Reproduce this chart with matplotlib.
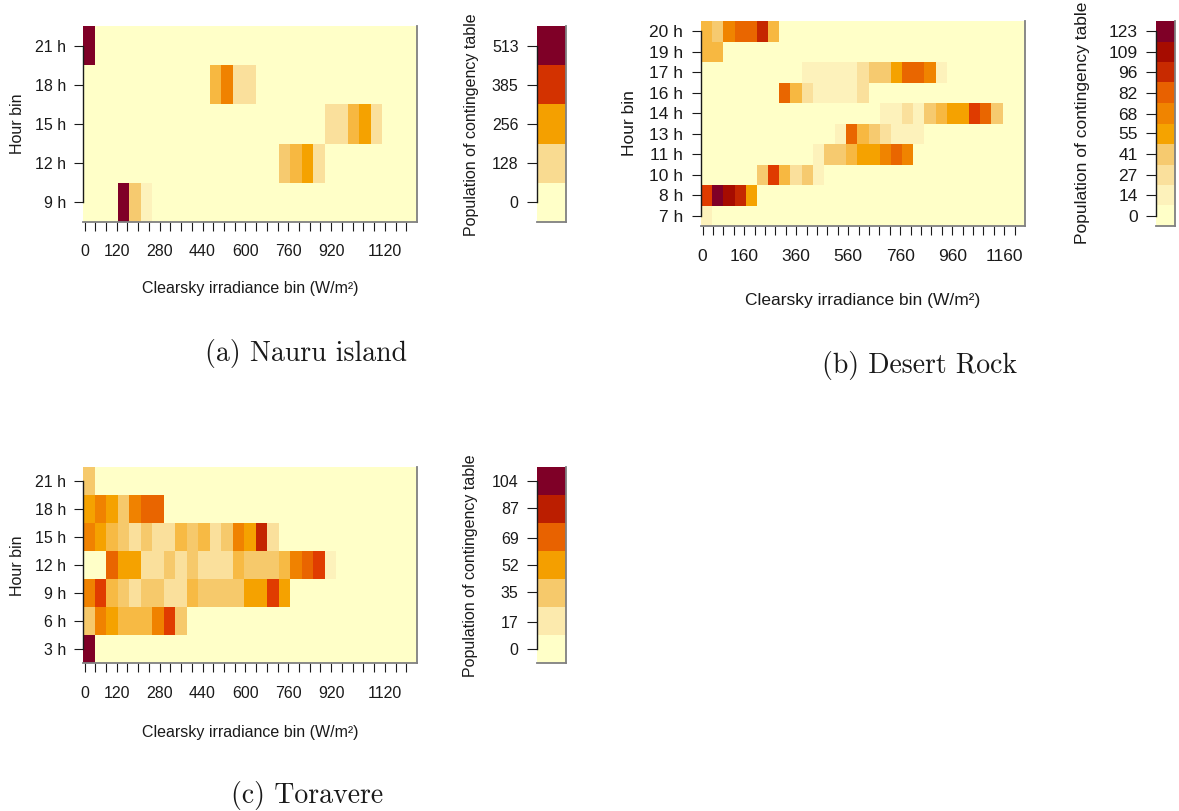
import numpy as np
import matplotlib
matplotlib.use("Agg")
import matplotlib.pyplot as plt
from matplotlib.colors import LinearSegmentedColormap

plt.rcParams['font.family'] = ['Liberation Sans', 'DejaVu Sans']

# ---------------- data ----------------
# 29 clearsky irradiance bins, axis ticks every 40 W/m2
irr_ticks = np.arange(0, 1201, 40)
n_bins = 29

# (a) Nauru island, rows from bottom (9 h) to top (21 h)
nauru_hours = [9, 12, 15, 18, 21]
nauru_counts = [
    [0, 0, 0, 513, 171, 57, 0, 0, 0, 0, 0, 0, 0, 0, 0, 0, 0, 0, 0, 0, 0, 0, 0, 0, 0, 0, 0, 0, 0],
    [0, 0, 0, 0, 0, 0, 0, 0, 0, 0, 0, 0, 0, 0, 0, 0, 0, 171, 200, 241, 114, 0, 0, 0, 0, 0, 0, 0, 0],
    [0, 0, 0, 0, 0, 0, 0, 0, 0, 0, 0, 0, 0, 0, 0, 0, 0, 0, 0, 0, 0, 114, 114, 200, 241, 114, 0, 0, 0],
    [0, 0, 0, 0, 0, 0, 0, 0, 0, 0, 0, 200, 285, 114, 114, 0, 0, 0, 0, 0, 0, 0, 0, 0, 0, 0, 0, 0, 0],
    [513, 0, 0, 0, 0, 0, 0, 0, 0, 0, 0, 0, 0, 0, 0, 0, 0, 0, 0, 0, 0, 0, 0, 0, 0, 0, 0, 0, 0],
]
nauru_xlabels = [0, 120, 280, 440, 600, 760, 920, 1120]
nauru_cbar = [0, 128, 256, 385, 513]

# (b) Desert Rock
desert_hours = [7, 8, 10, 11, 13, 14, 16, 17, 19, 20]
desert_counts = [
    [14, 0, 0, 0, 0, 0, 0, 0, 0, 0, 0, 0, 0, 0, 0, 0, 0, 0, 0, 0, 0, 0, 0, 0, 0, 0, 0, 0, 0],
    [89, 123, 109, 98, 58, 0, 0, 0, 0, 0, 0, 0, 0, 0, 0, 0, 0, 0, 0, 0, 0, 0, 0, 0, 0, 0, 0, 0, 0],
    [0, 0, 0, 0, 0, 41, 89, 48, 27, 41, 14, 0, 0, 0, 0, 0, 0, 0, 0, 0, 0, 0, 0, 0, 0, 0, 0, 0, 0],
    [0, 0, 0, 0, 0, 0, 0, 0, 0, 0, 14, 41, 41, 48, 58, 58, 68, 80, 68, 0, 0, 0, 0, 0, 0, 0, 0, 0, 0],
    [0, 0, 0, 0, 0, 0, 0, 0, 0, 0, 0, 0, 14, 80, 48, 41, 27, 14, 14, 14, 0, 0, 0, 0, 0, 0, 0, 0, 0],
    [0, 0, 0, 0, 0, 0, 0, 0, 0, 0, 0, 0, 0, 0, 0, 0, 14, 14, 27, 14, 41, 48, 58, 58, 89, 80, 41, 0, 0],
    [0, 0, 0, 0, 0, 0, 0, 80, 48, 27, 14, 14, 14, 14, 27, 0, 0, 0, 0, 0, 0, 0, 0, 0, 0, 0, 0, 0, 0],
    [0, 0, 0, 0, 0, 0, 0, 0, 0, 14, 14, 14, 14, 14, 27, 41, 41, 58, 80, 80, 68, 14, 0, 0, 0, 0, 0, 0, 0],
    [48, 48, 0, 0, 0, 0, 0, 0, 0, 0, 0, 0, 0, 0, 0, 0, 0, 0, 0, 0, 0, 0, 0, 0, 0, 0, 0, 0, 0],
    [48, 41, 68, 80, 80, 98, 48, 0, 0, 0, 0, 0, 0, 0, 0, 0, 0, 0, 0, 0, 0, 0, 0, 0, 0, 0, 0, 0, 0],
]
desert_xlabels = [0, 160, 360, 560, 760, 960, 1160]
desert_cbar = [0, 14, 27, 41, 55, 68, 82, 96, 109, 123]

# (c) Toravere
torav_hours = [3, 6, 9, 12, 15, 18, 21]
torav_counts = [
    [104, 0, 0, 0, 0, 0, 0, 0, 0, 0, 0, 0, 0, 0, 0, 0, 0, 0, 0, 0, 0, 0, 0, 0, 0, 0, 0, 0, 0],
    [35, 58, 49, 40, 40, 40, 58, 75, 35, 0, 0, 0, 0, 0, 0, 0, 0, 0, 0, 0, 0, 0, 0, 0, 0, 0, 0, 0, 0],
    [58, 75, 40, 35, 23, 35, 35, 23, 23, 40, 35, 35, 35, 35, 49, 49, 75, 49, 0, 0, 0, 0, 0, 0, 0, 0, 0, 0, 0],
    [0, 0, 68, 49, 49, 23, 23, 35, 23, 35, 23, 23, 23, 40, 35, 35, 35, 40, 58, 68, 75, 12, 0, 0, 0, 0, 0, 0, 0],
    [58, 49, 40, 35, 23, 35, 23, 23, 40, 35, 40, 23, 35, 58, 49, 83, 23, 0, 0, 0, 0, 0, 0, 0, 0, 0, 0, 0, 0],
    [49, 58, 49, 35, 58, 68, 68, 0, 0, 0, 0, 0, 0, 0, 0, 0, 0, 0, 0, 0, 0, 0, 0, 0, 0, 0, 0, 0, 0],
    [35, 0, 0, 0, 0, 0, 0, 0, 0, 0, 0, 0, 0, 0, 0, 0, 0, 0, 0, 0, 0, 0, 0, 0, 0, 0, 0, 0, 0],
]
torav_xlabels = [0, 120, 280, 440, 600, 760, 920, 1120]
torav_cbar = [0, 17, 35, 52, 69, 87, 104]

# ---------------- style ----------------
W, H = 1179, 811
X_LO, X_HI = -6.0, 1240.0
TXT = '#1a1a1a'
SHADOW = '#808080'

# yellow-orange-red sequential palette
cmap = LinearSegmentedColormap.from_list('ylorrd', [
    (0.000, '#FFFFC8'), (0.111, '#FDF2BC'), (0.222, '#FAE09B'),
    (0.333, '#F6CA6F'), (0.389, '#F7B840'), (0.444, '#F5A300'),
    (0.500, '#F4A000'), (0.556, '#F08200'), (0.667, '#E86100'),
    (0.722, '#E03C00'), (0.778, '#C82A00'), (0.833, '#BE2000'),
    (0.889, '#A50B00'), (1.000, '#7F0027')])

fig = plt.figure(figsize=(W / 100, H / 100), dpi=100)


def px_rect(l, t, r, b):
    return [l / W, 1 - b / H, (r - l) / W, (b - t) / H]


def ftext(x, y, s, **kw):
    fig.text(x / W, 1 - y / H, s, ha='center', va='center', color=TXT, **kw)


def style_frame(ax, nlo, nhi):
    ax.spines['top'].set_visible(False)
    for s in ('right', 'bottom'):
        ax.spines[s].set_color(SHADOW)
        ax.spines[s].set_linewidth(1.3)
    ax.spines['left'].set_bounds(nlo, nhi)
    ax.spines['left'].set_color(TXT)
    ax.spines['left'].set_linewidth(1.0)


def heatmap(rect, hours, counts, xlabels, vmax, fs, tlen):
    ax = fig.add_axes(px_rect(*rect))
    z = np.array(counts, dtype=float)
    xe = np.linspace(X_LO, X_HI, n_bins + 1)
    ye = np.arange(len(hours) + 1) - 0.5
    ax.pcolormesh(xe, ye, z, cmap=cmap, vmin=0, vmax=vmax, shading='flat')
    ax.set_xlim(X_LO, X_HI)
    ax.set_ylim(ye[0], ye[-1])
    ax.set_yticks(range(len(hours)))
    ax.set_yticklabels([f"{h} h" for h in hours])
    ax.set_xticks(irr_ticks)
    ax.set_xticklabels([str(v) if v in xlabels else "" for v in irr_ticks])
    ax.tick_params(axis='both', direction='out', length=tlen, width=0.8,
                   color=TXT, labelcolor=TXT, labelsize=fs)
    ax.tick_params(axis='y', pad=6)
    ax.tick_params(axis='x', pad=10)
    style_frame(ax, 0, len(hours) - 1)
    return ax


def colorbar(rect, ticks, fs):
    cax = fig.add_axes(px_rect(*rect))
    t = np.array(ticks, dtype=float)
    step = t[-1] / (len(t) - 1)
    edges = np.concatenate([[t[0] - step / 2], (t[:-1] + t[1:]) / 2, [t[-1] + step / 2]])
    cax.pcolormesh([0, 1], edges, t.reshape(-1, 1), cmap=cmap, vmin=0, vmax=t[-1], shading='flat')
    cax.set_xlim(0, 1)
    cax.set_ylim(edges[0], edges[-1])
    cax.set_xticks([])
    cax.set_yticks(t)
    cax.set_yticklabels([str(v) for v in ticks])
    cax.tick_params(axis='y', direction='out', length=7.2, width=0.8, pad=6,
                    color=TXT, labelcolor=TXT, labelsize=fs)
    style_frame(cax, t[0], t[-1])
    return cax


# (a) Nauru island
heatmap((83, 26, 417, 222), nauru_hours, nauru_counts, nauru_xlabels, nauru_cbar[-1], 11.5, 6.2)
colorbar((537, 26, 566, 222), nauru_cbar, 11.5)
ftext(17.5, 124, 'Hour bin', rotation=90, fontsize=11.5)
ftext(250, 288, 'Clearsky irradiance bin (W/m²)', fontsize=11.5)
ftext(471.5, 124.5, 'Population of contingency table', rotation=90, fontsize=11.5)
ftext(306, 354, '(a) Nauru island', family='cmr10', fontsize=20)

# (b) Desert Rock
heatmap((701, 21, 1025, 226), desert_hours, desert_counts, desert_xlabels, desert_cbar[-1], 12.5, 6.8)
colorbar((1156, 21, 1175, 226), desert_cbar, 12.5)
ftext(629, 123.5, 'Hour bin', rotation=90, fontsize=12.5)
ftext(863, 301, 'Clearsky irradiance bin (W/m²)', fontsize=12.5)
ftext(1083, 123, 'Population of contingency table', rotation=90, fontsize=12.5)
ftext(919, 366, '(b) Desert Rock', family='cmr10', fontsize=20)

# (c) Toravere
heatmap((83, 467, 417, 663), torav_hours, torav_counts, torav_xlabels, torav_cbar[-1], 11.5, 6.2)
colorbar((537, 467, 566, 663), torav_cbar, 11.5)
ftext(18, 566, 'Hour bin', rotation=90, fontsize=11.5)
ftext(250, 733, 'Clearsky irradiance bin (W/m²)', fontsize=11.5)
ftext(471, 566, 'Population of contingency table', rotation=90, fontsize=11.5)
ftext(307, 796, '(c) Toravere', family='cmr10', fontsize=20)

fig.savefig('out.png', dpi=100)
